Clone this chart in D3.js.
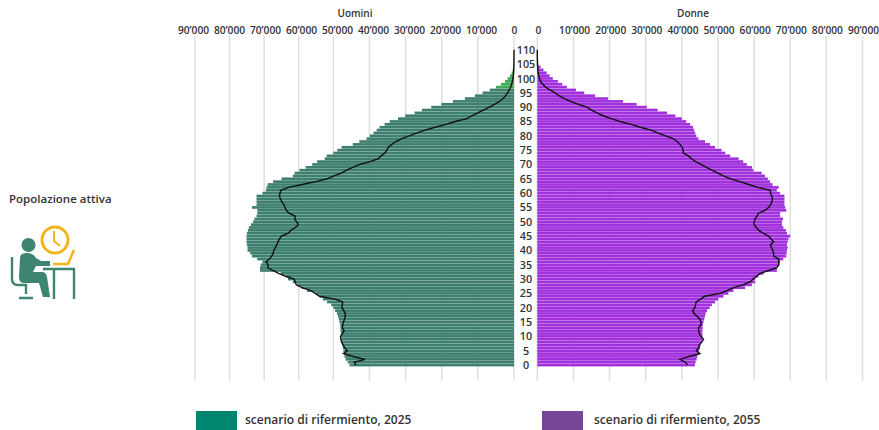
<!DOCTYPE html>
<html>
<head>
<meta charset="utf-8">
<script src="https://cdnjs.cloudflare.com/ajax/libs/d3/7.8.5/d3.min.js"></script>
<style>
  html, body { margin: 0; background: #fff; }
  svg { display: block; font-family: "Open Sans", sans-serif; }
  text { fill: #333; font-weight: 600; }
  .axis path, .axis line { display: none; }
  .axis text { font-family: "Open Sans", sans-serif; font-size: 10.2px; fill: #333; }
</style>
</head>
<body>
<svg id="chart" width="879" height="430"></svg>
<script>
const ticks = [0, 10000, 20000, 30000, 40000, 50000, 60000, 70000, 80000, 90000];
const ageLabels = [0, 5, 10, 15, 20, 25, 30, 35, 40, 45, 50, 55, 60, 65, 70, 75, 80, 85, 90, 95, 100, 105, 110];
const legendLabels = ['scenario di rifermiento, 2025', 'scenario di rifermiento, 2055'];

// index = age, 0 to 110
const menBars = [
  45500, 46000, 46600, 46900, 47000, 47200, 47400, 47500, 47600, 47700,
  47800, 47900, 48000, 48050, 48100, 48300, 48500, 48700, 49000, 49500,
  50000, 50600, 51800, 53000, 54000, 55000, 57600, 59200, 60400, 61700,
  63100, 63600, 65200, 71200, 71200, 71000, 70500, 72000, 73500, 74000,
  74800, 74800, 75000, 75100, 75100, 75100, 75000, 74700, 74400, 73800,
  73200, 72800, 72200, 72000, 72000, 73500, 72200, 72200, 72200, 72200,
  70500, 69500, 69300, 69000, 67400, 65000, 61700, 61200, 59800, 58000,
  56100, 54700, 52500, 51900, 50000, 48900, 47700, 44600, 42800, 40800,
  39900, 38900, 38000, 37200, 35800, 34400, 32100, 30100, 27500, 25500,
  22900, 20100, 16900, 13600, 10800, 8700, 6700, 5000, 3600, 2500,
  1760, 1100, 650, 370, 150, 50, 20, 0, 0, 0, 0
];
const menLine = [
  43700, 44200, 41200, 44500, 47200, 46100, 46800, 47300, 47700, 47900,
  48000, 47500, 47000, 47500, 47400, 47200, 46900, 46700, 46700, 47100,
  47600, 47500, 47400, 49500, 54000, 55200, 56500, 59000, 60700, 61000,
  61300, 63800, 65800, 67500, 69000, 68800, 69500, 68500, 67800, 67400,
  67200, 66800, 66300, 66000, 65600, 65000, 63000, 62300, 61000, 60100,
  60600, 61200, 61000, 62800, 63600, 64000, 64300, 64900, 65300, 65600,
  65400, 65200, 62900, 59000, 55000, 51800, 49800, 47800, 46300, 44600,
  42700, 39800, 37500, 36800, 35700, 35200, 34800, 33800, 32700, 31000,
  29000, 26800, 24600, 21800, 18800, 16300, 13000, 11700, 10000, 8500,
  6800, 5400, 4000, 3000, 2300, 1800, 1300, 950, 650, 450,
  300, 200, 120, 70, 40, 20, 10, 5, 0, 0, 0
];
const womenBars = [
  43600, 43800, 44100, 44300, 44600, 44800, 45000, 45200, 45400, 45700,
  45700, 45700, 45700, 45800, 45800, 46000, 46200, 46400, 46600, 47000,
  47700, 48300, 49200, 50100, 51500, 52900, 54300, 57500, 59400, 60300,
  60300, 61200, 62600, 66300, 66300, 67000, 67200, 68100, 68900, 69000,
  69100, 69300, 69100, 69300, 69500, 70000, 69100, 68800, 68100, 67700,
  67700, 68000, 67200, 67200, 68900, 68600, 68400, 68400, 68400, 68400,
  67200, 66300, 66800, 65100, 64400, 63800, 63000, 62100, 59800, 59400,
  58000, 57000, 55700, 53400, 52000, 51000, 49200, 47800, 46400, 44600,
  44000, 43700, 43400, 43100, 42300, 41200, 40000, 38200, 35900, 33300,
  30300, 27500, 23700, 19600, 16000, 13000, 10700, 8200, 6900, 5700,
  4300, 3400, 2600, 1700, 900, 300, 100, 0, 0, 0, 0
];
const womenLine = [
  41600, 41000, 39500, 42000, 45000, 44000, 44700, 44800, 45500, 46000,
  45300, 44800, 44700, 44600, 45300, 45300, 45000, 44200, 43400, 43000,
  43600, 43800, 44000, 45200, 46300, 50600, 52500, 54300, 56900, 58900,
  59700, 60700, 61700, 64000, 66300, 66800, 66800, 66800, 65400, 65400,
  65200, 64800, 64500, 65400, 64700, 64000, 62500, 61300, 60600, 60000,
  60000, 60300, 60800, 61200, 63000, 64000, 64600, 64900, 65100, 64900,
  64500, 64500, 61000, 58500, 56100, 53500, 51500, 50000, 48300, 46800,
  45300, 43800, 42700, 41800, 40400, 40400, 40100, 39500, 38700, 37600,
  35500, 33300, 31500, 28500, 26000, 22900, 20500, 18200, 16500, 15000,
  13700, 11400, 9200, 7500, 6000, 4900, 3500, 2300, 1500, 900,
  600, 400, 250, 150, 100, 50, 30, 10, 0, 0, 0
];

const ages = d3.range(0, 111);
const svg = d3.select('#chart');

const xL = d3.scaleLinear().domain([0, 50000, 90000]).range([514, 333.3, 195]);
const xR = d3.scaleLinear().domain([0, 90000]).range([537.3, 862.5]);
// tick labels do not sit exactly over the gridlines in the original
const labelL = d3.scaleLinear().domain([0, 10000, 90000]).range([514, 481, 193]);
const labelR = d3.scaleLinear().domain([0, 90000]).range([538, 863]);
const y  = d3.scaleBand().domain(ages).range([366.4, 48.5]).paddingInner(.06);
const yMid = a => y(a) + y.bandwidth() / 2;
const fmt = d => d3.format(',')(d).replace(/,/g, '’');

// gridlines sit behind the bars
[xL, xR].forEach(x => {
  svg.append('g').attr('class', 'grid').selectAll('line').data(ticks).join('line')
    .attr('x1', d => x(d)).attr('x2', d => x(d)).attr('y1', 36).attr('y2', 381)
    .attr('stroke', '#dedede').attr('stroke-width', 1.5);
});

const menColor = a => a >= 97 ? '#3fa65a' : '#3d7f6e';
svg.append('g').selectAll('rect').data(ages).join('rect')
  .attr('x', a => xL(menBars[a])).attr('y', a => y(a))
  .attr('width', a => 514 - xL(menBars[a])).attr('height', y.bandwidth())
  .attr('fill', menColor);
svg.append('g').selectAll('rect').data(ages).join('rect')
  .attr('x', xR(0)).attr('y', a => y(a))
  .attr('width', a => xR(womenBars[a]) - xR(0)).attr('height', y.bandwidth())
  .attr('fill', '#a031dc');

const lineL = d3.line().x(a => xL(menLine[a])).y(yMid);
const lineR = d3.line().x(a => xR(womenLine[a])).y(yMid);
svg.append('path').attr('d', lineL(ages)).attr('fill', 'none').attr('stroke', '#111').attr('stroke-width', 1.4);
svg.append('path').attr('d', lineR(ages)).attr('fill', 'none').attr('stroke', '#111').attr('stroke-width', 1.4);

// axes on top
svg.append('g').attr('class', 'axis').attr('transform', 'translate(0,34)')
  .call(d3.axisTop(labelL).tickValues(ticks).tickSize(0).tickPadding(0).tickFormat(fmt));
svg.append('g').attr('class', 'axis').attr('transform', 'translate(0,34)')
  .call(d3.axisTop(labelR).tickValues(ticks).tickSize(0).tickPadding(0).tickFormat(fmt));

svg.append('text').attr('x', 355).attr('y', 16.5).attr('text-anchor', 'middle').attr('font-size', 10).text('Uomini');
svg.append('text').attr('x', 693).attr('y', 16.5).attr('text-anchor', 'middle').attr('font-size', 10).text('Donne');

svg.append('g').selectAll('text').data(ageLabels).join('text')
  .attr('x', 526).attr('y', d => yMid(d) + 4).attr('text-anchor', 'middle')
  .attr('font-size', 10.8).text(d => d);

// legend
[['#00866f', 196, 245], ['#774694', 542, 594]].forEach((l, i) => {
  svg.append('rect').attr('x', l[1]).attr('y', 411).attr('width', 41).attr('height', 19).attr('fill', l[0]);
  svg.append('text').attr('x', l[2]).attr('y', 424).attr('font-size', 12).text(legendLabels[i]);
});

svg.append('text').attr('x', 9).attr('y', 203).attr('font-size', 11.5).attr('font-weight', 700).text('Popolazione attiva');

// icon: person at a desk with clock
const icon = svg.append('g');
const teal = '#3d8570', gold = '#f2b61c';
icon.append('circle').attr('cx', 55).attr('cy', 240).attr('r', 13).attr('fill', 'none').attr('stroke', gold).attr('stroke-width', 3);
icon.append('path').attr('d', 'M54 231V241L60 246').attr('fill', 'none').attr('stroke', gold).attr('stroke-width', 2);
icon.append('path').attr('d', 'M53 264H68L74 250').attr('fill', 'none').attr('stroke', gold).attr('stroke-width', 2.6);
icon.append('circle').attr('cx', 28.5).attr('cy', 245).attr('r', 7).attr('fill', teal);
icon.append('path').attr('d', 'M20 258Q20 253 27 253Q33 253 36 258L41 261H50V266H36L33 272H42Q46 272 47 277L50 297H43L39 283H24Q19 283 19 277Z').attr('fill', teal);
icon.append('path').attr('d', 'M12 257V279Q12 285 18 285H26V294M19 298H33').attr('fill', 'none').attr('stroke', teal).attr('stroke-width', 2.4);
icon.append('path').attr('d', 'M43 269H74V299M54 269V299').attr('fill', 'none').attr('stroke', teal).attr('stroke-width', 2.4);
</script>
</body>
</html>
